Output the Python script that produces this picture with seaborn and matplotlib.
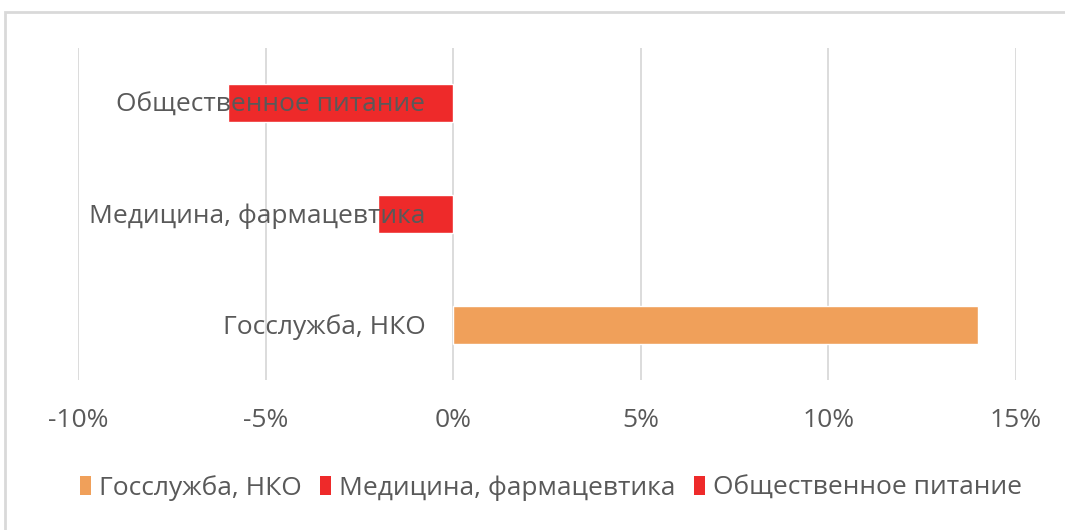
import pandas as pd
import matplotlib.pyplot as plt
import seaborn as sns
from matplotlib.patches import Patch, Rectangle
from matplotlib.ticker import FuncFormatter

# values (share, %)
categories = ['Общественное питание', 'Медицина, фармацевтика', 'Госслужба, НКО']
values = [-6, -2, 14]
colors = ['#EE2A2A', '#EE2A2A', '#F0A05A']
legend_order = ['Госслужба, НКО', 'Медицина, фармацевтика', 'Общественное питание']
x_ticks = [-10, -5, 0, 5, 10, 15]

df = pd.DataFrame({'category': categories, 'value': values})

sns.set_style("white")
plt.rcParams['font.family'] = ['Open Sans', 'DejaVu Sans']
text_color = '#595959'
fs = 19

fig = plt.figure(figsize=(10.65, 5.3), dpi=100)
ax = fig.add_axes([78 / 1065, 1 - 380 / 530, (1016 - 78) / 1065, (380 - 48) / 530])

# outer chart frame
fig.patches.append(Rectangle((5 / 1065, -0.05), 1.1, 1 - 12 / 530 + 0.05,
                             transform=fig.transFigure, fill=False,
                             edgecolor='#D9D9D9', linewidth=2))

palette = dict(zip(categories, colors))
sns.barplot(data=df, x='value', y='category', hue='category', palette=palette,
            order=categories, width=0.345, orient='h', legend=False, ax=ax,
            saturation=1, zorder=2)

ax.set_xlim(-10, 15)
ax.set_ylim(2.5, -0.5)
ax.set_xticks(x_ticks)
ax.xaxis.set_major_formatter(FuncFormatter(lambda v, p: f'{v:.0f}%'))
ax.tick_params(axis='x', length=0, pad=20, labelsize=fs, labelcolor=text_color)
ax.set_yticks([])
ax.set_xlabel('')
ax.set_ylabel('')
ax.grid(axis='x', color='#D9D9D9', linewidth=1.3, zorder=0)
ax.set_axisbelow(True)
for s in ax.spines.values():
    s.set_visible(False)

# category labels next to the zero line, on top of the bars
for i, cat in enumerate(categories):
    ax.annotate(cat, xy=(0, i), xytext=(-20, -1.5), textcoords='offset points',
                ha='right', va='center', fontsize=fs, color=text_color, zorder=5)

handles = [Patch(facecolor=palette[c], edgecolor='none') for c in legend_order]
fig.legend(handles, legend_order, loc='center', bbox_to_anchor=(0.517, 1 - 488 / 530),
           ncol=3, frameon=False, fontsize=fs, labelcolor=text_color,
           handlelength=0.42, handleheight=0.75, handletextpad=0.3, columnspacing=0.7)

plt.savefig('out.png', dpi=100)
